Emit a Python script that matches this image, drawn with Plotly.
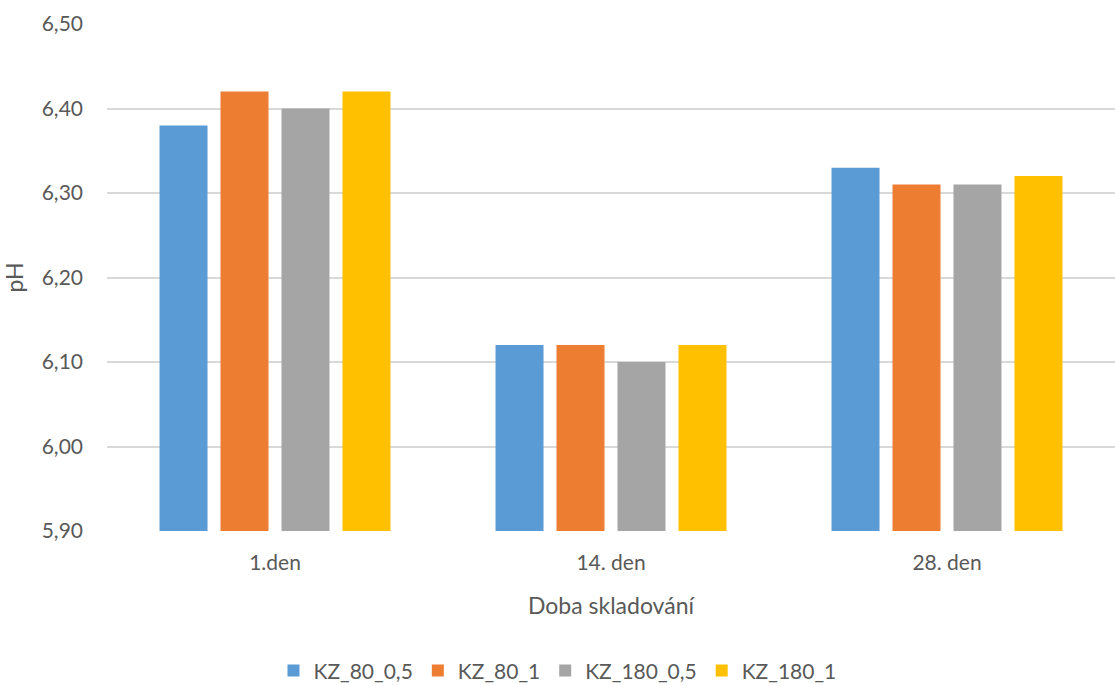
import plotly.graph_objects as go

# Storage time categories and pH readings per sample
categories = ["1.den", "14. den", "28. den"]
series_names = ["KZ_80_0,5", "KZ_80_1", "KZ_180_0,5", "KZ_180_1"]
kz_80_05 = [6.38, 6.12, 6.33]
kz_80_1 = [6.42, 6.12, 6.31]
kz_180_05 = [6.40, 6.10, 6.31]
kz_180_1 = [6.42, 6.12, 6.32]
y_ticks = [5.90, 6.00, 6.10, 6.20, 6.30, 6.40, 6.50]

colors = ["#5B9BD5", "#ED7D31", "#A5A5A5", "#FFC000"]
text_color = "#595959"
font_family = "Lato, 'Open Sans', sans-serif"

fig = go.Figure()
for name, values, color in zip(series_names, [kz_80_05, kz_80_1, kz_180_05, kz_180_1], colors):
    fig.add_trace(go.Bar(
        x=categories, y=values, name=name,
        marker=dict(color=color, line=dict(width=0)),
    ))

fig.update_layout(
    width=1115, height=686,
    margin=dict(l=107, r=0, t=24, b=155),
    paper_bgcolor="white", plot_bgcolor="white",
    barmode="group", bargap=0.274, bargroupgap=0.213,
    font=dict(family=font_family, size=21, color=text_color),
    showlegend=True,
    legend=dict(
        orientation="h", xref="container", yref="container",
        x=0.5, xanchor="center", y=0.022, yanchor="middle",
        font=dict(size=21, color=text_color),
        itemwidth=30, traceorder="normal",
    ),
    xaxis=dict(
        showgrid=False, showline=False, zeroline=False,
        ticks="", ticklabelstandoff=17,
        title=dict(text="Doba skladování", standoff=24,
                   font=dict(size=23, color=text_color)),
    ),
    yaxis=dict(
        range=[5.90, 6.50], tickvals=y_ticks,
        ticktext=[f"{v:.2f}".replace(".", ",") for v in y_ticks],
        showgrid=True, gridcolor="#D9D9D9", gridwidth=1.5,
        showline=False, zeroline=False, ticks="",
        ticklabelstandoff=23,
        title=dict(text="pH", standoff=16,
                   font=dict(size=23, color=text_color)),
    ),
)

fig.write_html("out.html")
